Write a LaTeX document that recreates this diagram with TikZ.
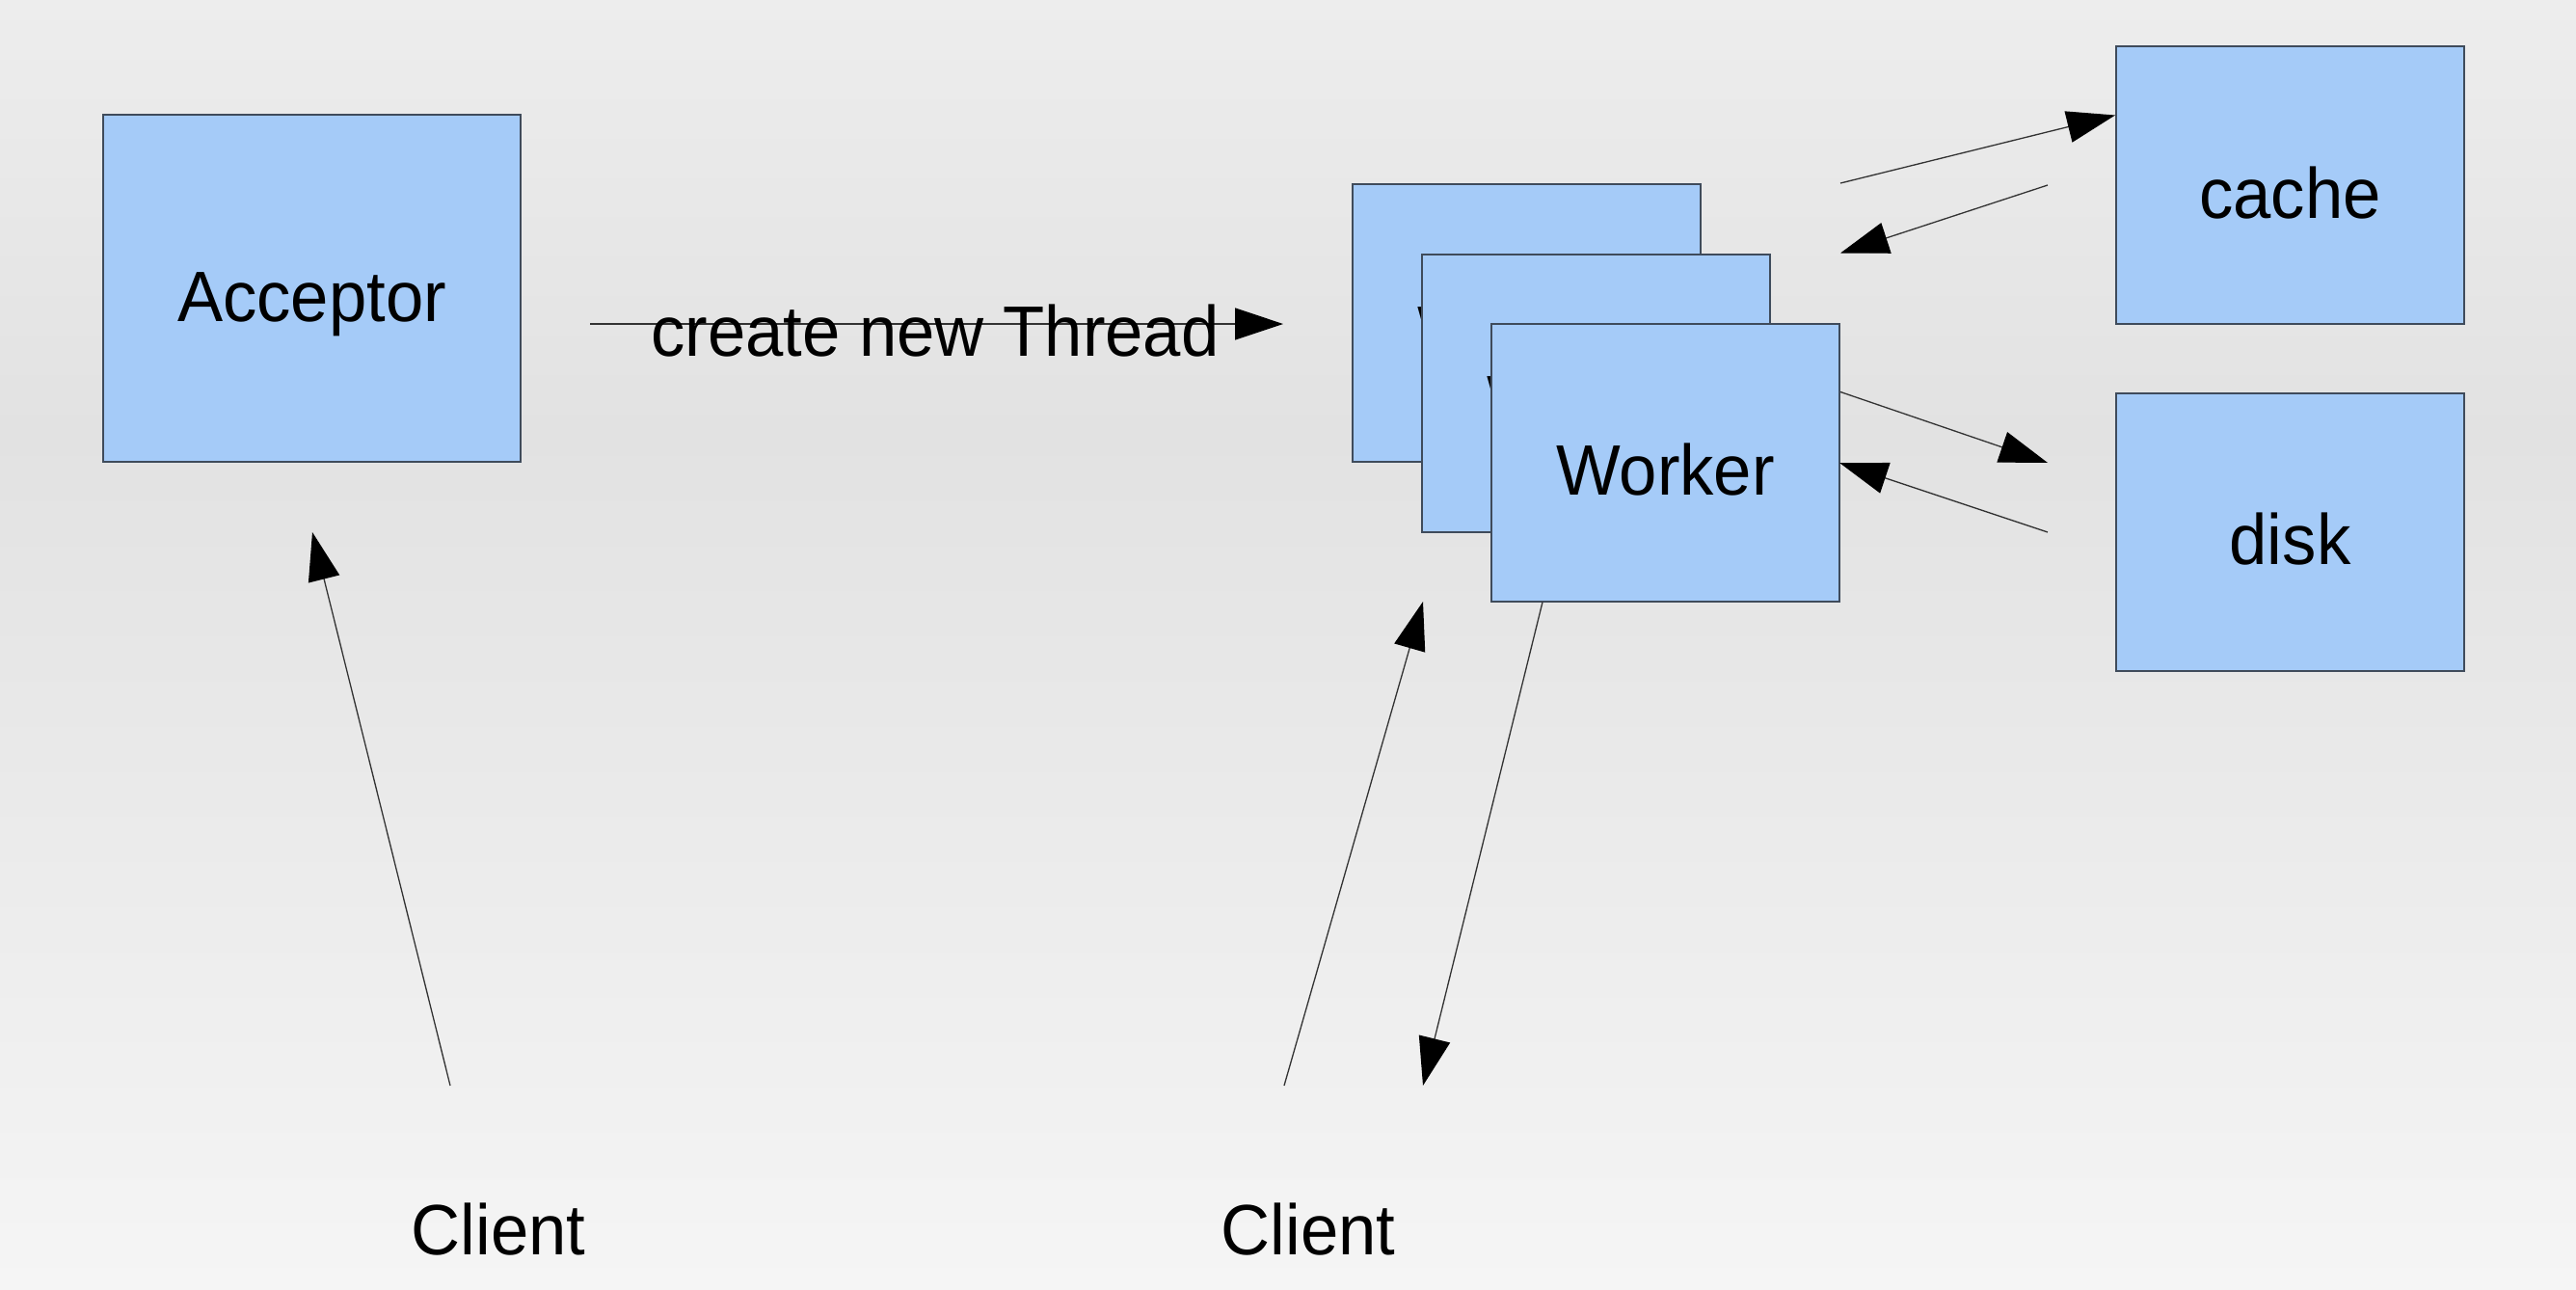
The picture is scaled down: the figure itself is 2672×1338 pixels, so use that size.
\documentclass[tikz,border=0pt]{standalone}
\usepackage{fontspec}
\setmainfont{Liberation Sans}[FakeStretch=0.955]
\usetikzlibrary{arrows.meta,calc}
\definecolor{bgtop}{HTML}{EDEDED}
\definecolor{bgmid}{HTML}{E2E2E2}
\definecolor{bgbot}{HTML}{F5F5F5}
\definecolor{boxfill}{HTML}{A5CBF8}
\definecolor{boxline}{HTML}{3F4B5B}
\definecolor{lineclr}{HTML}{333333}
\newcommand{\biglabel}{\fontsize{74}{89}\selectfont}
\begin{document}
\begin{tikzpicture}[x=1pt,y=-1pt,
  box/.style={rectangle, draw=boxline, line width=2pt, fill=boxfill, inner sep=0pt,
    minimum width=361pt, minimum height=288pt, text height=68pt, text depth=0pt, font=\biglabel},
  lbl/.style={font=\biglabel, inner sep=0pt, anchor=base},
  conn/.style={draw=lineclr, line width=1.3pt, -{Triangle[length=50pt,width=33pt,color=black]}}]
\useasboundingbox (0,0) rectangle (2672,1338);
\shade[top color=bgtop, bottom color=bgmid] (0,0) rectangle (2672,450);
\shade[top color=bgmid, bottom color=bgbot] (0,449) rectangle (2672,1338);

% boxes
\node[box, minimum width=433pt, minimum height=360pt] (acc) at (323.5,299) {Acceptor};
\node[box] (w1) at (1583.5,335) {Worker};
\node[box] (w2) at (1655.5,407.5) {Worker};
\node[box] (w3) at (1727.5,479.5) {Worker};
\node[box] (cache) at (2375.5,192) {cache};
\node[box] (disk) at (2375.5,551.5) {disk};

% client labels
\node[lbl] (cl1) at (517,1301) {Client};
\node[lbl] (cl2) at (1357,1301) {Client};

% free ends of connectors
\coordinate (ctS) at (612,336);
\coordinate (ctE) at (1331,336);
\coordinate (c1S) at (467,1126);
\coordinate (c1E) at (324,552);
\coordinate (c2S) at (1332,1126);
\coordinate (c2E) at (1476,624);
\coordinate (w3S) at ($(w3.south west)+(54,0)$);
\coordinate (c2R) at (1476,1126);
\coordinate (cwS) at (2124,192);
\coordinate (cwE) at (w3.east |- w2.north);
\coordinate (wdS) at (w3.east |- disk.north);
\coordinate (wdE) at (2124,480);
\coordinate (dwS) at (2124,552);
\coordinate (dwE) at (1908,480);

% connectors
\draw[conn] (ctS) -- (ctE);
\node[lbl] (ctlabel) at (970,369) {create new Thread};
\draw[conn] (c1S) -- (c1E);
\draw[conn] (c2S) -- (c2E);
\draw[conn] (w3S) -- (c2R);
\draw[conn] (w3.east |- w1.north) -- ($(cache.north west)!0.25!(cache.south west)$);
\draw[conn] (cwS) -- (cwE);
\draw[conn] (wdS) -- (wdE);
\draw[conn] (dwS) -- (dwE);
\end{tikzpicture}
\end{document}
